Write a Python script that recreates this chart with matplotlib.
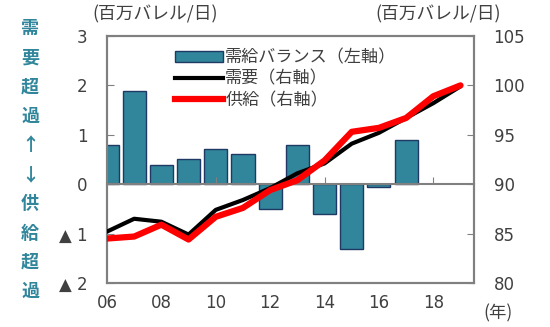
import matplotlib
matplotlib.use('Agg')
import matplotlib.pyplot as plt
from matplotlib.patches import Patch
from matplotlib.lines import Line2D

plt.rcParams['font.family'] = ['Noto Sans CJK JP', 'DejaVu Sans']

years = [2006, 2007, 2008, 2009, 2010, 2011, 2012, 2013, 2014, 2015, 2016, 2017, 2018, 2019]
bar_years = [2006, 2007, 2008, 2009, 2010, 2011, 2012, 2013, 2014, 2015, 2016, 2017]
balance = [0.79, 1.88, 0.39, 0.51, 0.72, 0.61, -0.50, 0.79, -0.60, -1.31, -0.05, 0.90]
demand = [85.2, 86.5, 86.2, 84.9, 87.4, 88.4, 89.6, 91.1, 92.1, 94.1, 95.2, 96.7, 98.2, 99.9]
supply = [84.5, 84.7, 85.9, 84.4, 86.7, 87.6, 89.4, 90.4, 92.4, 95.3, 95.7, 96.7, 98.9, 100.0]

xtick_pos = [2006, 2008, 2010, 2012, 2014, 2016, 2018]
xtick_lab = ['06', '08', '10', '12', '14', '16', '18']
left_ticks = [-2, -1, 0, 1, 2, 3]
left_lab = ['▲ 2', '▲ 1', '0', '1', '2', '3']
right_ticks = [80, 85, 90, 95, 100, 105]

bar_color = '#31869B'
bar_edge = '#1F3864'
gray = '#808080'
txt = '#404040'

fig = plt.figure(figsize=(5.5, 3.27), dpi=100)
ax = fig.add_axes([0.1945, 0.1346, 0.6675, 0.7554])
ax.bar(bar_years, balance, width=0.85, color=bar_color, edgecolor=bar_edge, linewidth=1.0, zorder=2)
ax.set_xlim(2006, 2019.5)
ax.set_ylim(-2, 3)
ax.set_yticks(left_ticks)
ax.set_yticklabels(left_lab, family='DejaVu Sans')
ax.tick_params(axis='y', direction='in', length=5, color=gray, labelsize=12, labelcolor=txt, pad=14)
ax.set_xticks(xtick_pos)
ax.set_xticklabels(xtick_lab, family='DejaVu Sans')
ax.tick_params(axis='x', length=0, labelsize=12, labelcolor=txt, pad=8)
for s in ax.spines.values():
    s.set_color(gray)
    s.set_linewidth(1.5)

# zero line with upward year ticks
zero = ax.secondary_xaxis(0.4)
zero.set_xticks([2010, 2014, 2018])
zero.tick_params(direction='in', length=5, color=gray, labelbottom=False)
zero.spines['bottom'].set_color(gray)
zero.spines['bottom'].set_linewidth(1.5)
zero.set_zorder(3)

ax2 = ax.twinx()
ax2.plot(years, demand, color='black', lw=3.0, solid_capstyle='round', zorder=3)
ax2.plot(years, supply, color='red', lw=4.5, solid_capstyle='round', zorder=4)
ax2.set_ylim(80, 105)
ax2.set_yticks(right_ticks)
ax2.set_yticklabels([str(v) for v in right_ticks], family='DejaVu Sans')
ax2.tick_params(axis='y', direction='in', length=5, color=gray, labelsize=12, labelcolor=txt, pad=14)
for s in ax2.spines.values():
    s.set_color(gray)
    s.set_linewidth(1.5)

handles = [Patch(facecolor=bar_color, edgecolor=bar_edge),
           Line2D([], [], color='black', lw=3.0),
           Line2D([], [], color='red', lw=4.5)]
labels = ['需給バランス（左軸）', '需要（右軸）', '供給（右軸）']
leg = ax2.legend(handles, labels, loc='upper left', bbox_to_anchor=(0.15, 1.0),
                 frameon=False, fontsize=12.3, handlelength=2.8, handleheight=0.6,
                 handletextpad=0.15, labelspacing=0.18, borderaxespad=0.35)
for t in leg.get_texts():
    t.set_color(txt)

fig.text(92 / 550, 1 - 14 / 327, '(百万バレル/日)', fontsize=12.8, color=txt, ha='left', va='center')
fig.text(375 / 550, 1 - 14 / 327, '(百万バレル/日)', fontsize=12.8, color=txt, ha='left', va='center')
fig.text(498 / 550, 1 - 313 / 327, '(年)', fontsize=12.5, color=txt, ha='center', va='center')

side = '\n'.join('需要超過↑↓供給超過')
fig.text(30 / 550, 1 - 160 / 327, side, fontsize=13, color=bar_color, fontweight='bold',
         ha='center', va='center', linespacing=1.68)

fig.savefig('out.png', dpi=100)
